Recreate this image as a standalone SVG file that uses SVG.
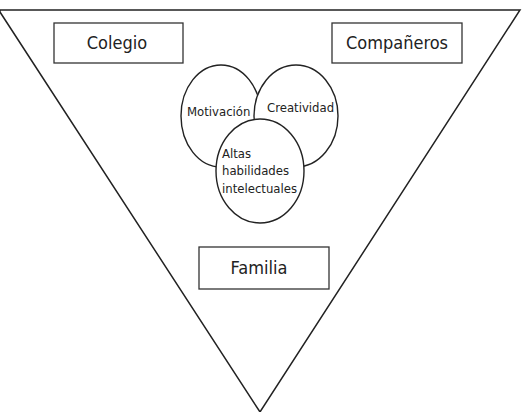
<svg xmlns="http://www.w3.org/2000/svg" width="525" height="412" viewBox="0 0 525 412">
<style>
.tri{fill:none;stroke:#222;stroke-width:1.5}
.box{fill:#fff;stroke:#333;stroke-width:1.3}
.circ{fill:#fff;stroke:#222;stroke-width:1.4}
.big{font-family:"DejaVu Sans Condensed","DejaVu Sans",sans-serif;font-stretch:condensed;font-size:18px;fill:#222;text-anchor:middle}
.small{font-family:"DejaVu Sans Condensed","DejaVu Sans",sans-serif;font-stretch:condensed;font-size:13px;fill:#222}
</style>
<rect width="525" height="412" fill="#fff"/>
<g id="connectors">
<polygon class="tri" points="0,10 520,10 260,412 0,12"/>
</g>
<g id="colegio">
<rect class="box" x="54" y="23" width="129" height="40"/>
<text class="big" x="117" y="49">Colegio</text>
</g>
<g id="companeros">
<rect class="box" x="332" y="23" width="130" height="40"/>
<text class="big" x="397" y="49">Compañeros</text>
</g>
<g id="familia">
<rect class="box" x="199" y="247" width="130" height="42"/>
<text class="big" x="259" y="274">Familia</text>
</g>
<g id="motivacion">
<ellipse class="circ" cx="221" cy="116" rx="40" ry="51"/>
<text class="small" x="187" y="116">Motivación</text>
</g>
<g id="creatividad">
<ellipse class="circ" cx="296" cy="116" rx="42" ry="51"/>
<text class="small" x="267" y="112">Creatividad</text>
</g>
<g id="altas">
<ellipse class="circ" cx="260" cy="171" rx="44" ry="52"/>
<text class="small" x="222" y="158">Altas</text>
<text class="small" x="222" y="175">habilidades</text>
<text class="small" x="222" y="193">intelectuales</text>
</g>
</svg>
